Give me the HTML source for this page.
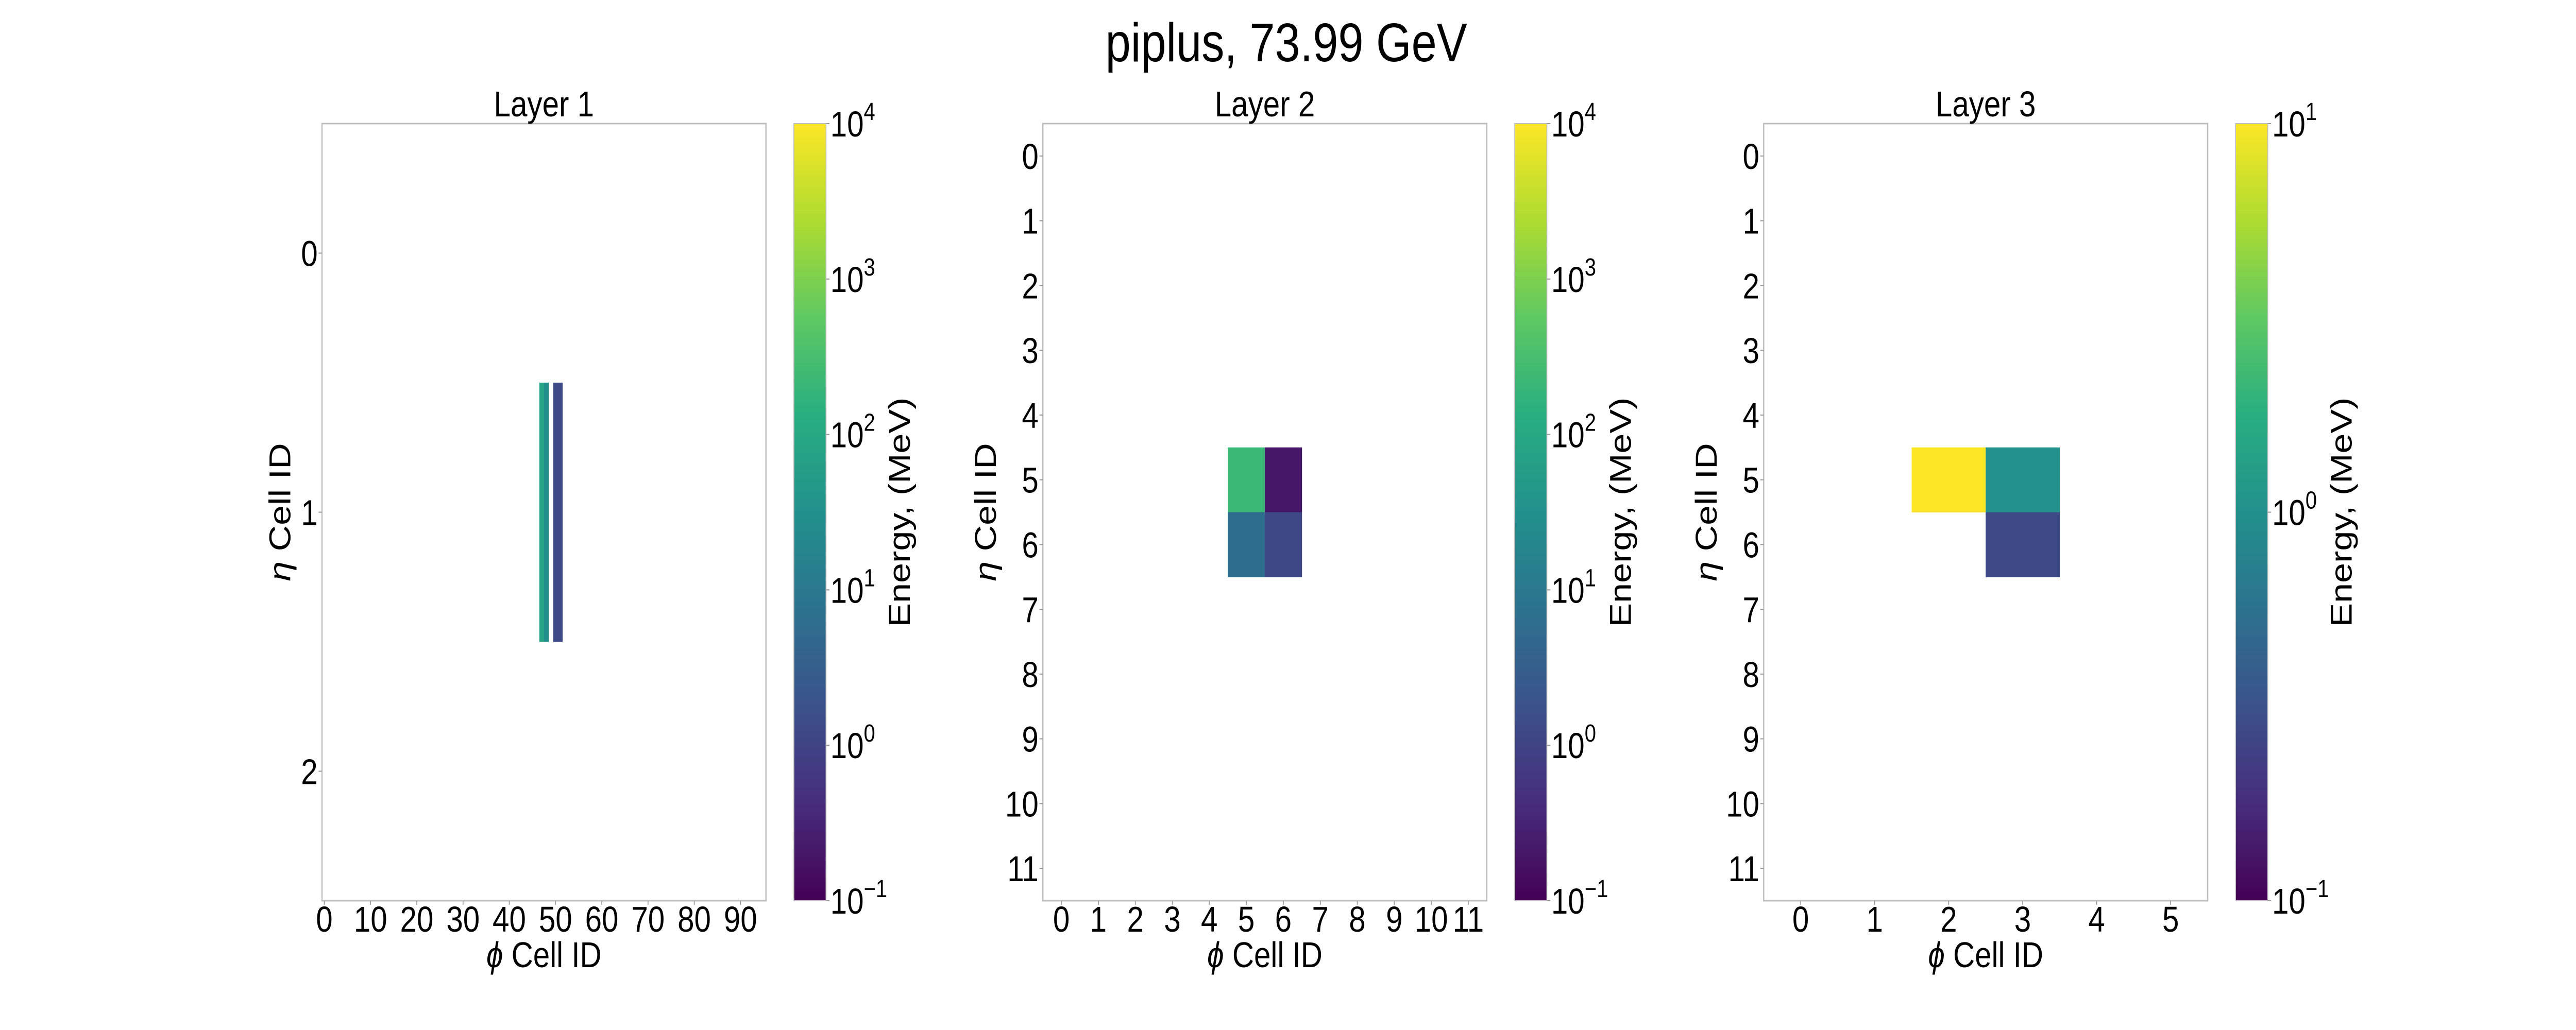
<!DOCTYPE html>
<html><head><meta charset="utf-8"><style>
html,body{margin:0;padding:0;background:#fff;width:100%;height:100%;overflow:hidden;}
svg{display:block;width:100vw;height:100vh;font-family:"Liberation Sans","DejaVu Sans",sans-serif;}
</style></head><body>
<svg id="fig" viewBox="0 0 6000 2000" preserveAspectRatio="none">
<defs>
<linearGradient id="viridis" x1="0" y1="1" x2="0" y2="0">
<stop offset="0" stop-color="#440154"/><stop offset="0.125" stop-color="#472d7b"/><stop offset="0.25" stop-color="#3b528b"/><stop offset="0.375" stop-color="#2c728e"/><stop offset="0.5" stop-color="#21918c"/><stop offset="0.625" stop-color="#28ae80"/><stop offset="0.75" stop-color="#5ec962"/><stop offset="0.875" stop-color="#addc30"/><stop offset="1" stop-color="#fde725"/>
</linearGradient>
</defs>
<text x="2996" y="119" font-size="106" text-anchor="middle">piplus, 73.99 GeV</text>
</svg>
<script>
// Layer 1 data
const l1Rows=[1,1,1,1];
const l1Cols=[47,48,50,51];
const l1Vals=[80,30,1.3,1.3];
const l1XTicks=[0,10,20,30,40,50,60,70,80,90];
const l1YTicks=[0,1,2];
// Layer 2 data
const l2Rows=[5,5,6,6];
const l2Cols=[5,6,5,6];
const l2Vals=[220,0.2,6,1.2];
const l2XTicks=[0,1,2,3,4,5,6,7,8,9,10,11];
const l2YTicks=[0,1,2,3,4,5,6,7,8,9,10,11];
// Layer 3 data
const l3Rows=[5,5,6];
const l3Cols=[2,3,3];
const l3Vals=[12,1.0,0.28];
const l3XTicks=[0,1,2,3,4,5];
const l3YTicks=[0,1,2,3,4,5,6,7,8,9,10,11];
const cb1Exps=[-1,0,1,2,3,4];
const cb2Exps=[-1,0,1,2,3,4];
const cb3Exps=[-1,0,1];

const NS="http://www.w3.org/2000/svg";
const svg=document.getElementById('fig');
const stops=[[0,[0x44,0x01,0x54]],[0.125,[0x47,0x2d,0x7b]],[0.25,[0x3b,0x52,0x8b]],[0.375,[0x2c,0x72,0x8e]],[0.5,[0x21,0x91,0x8c]],[0.625,[0x28,0xae,0x80]],[0.75,[0x5e,0xc9,0x62]],[0.875,[0xad,0xdc,0x30]],[1,[0xfd,0xe7,0x25]]];
function viridis(t){t=Math.max(0,Math.min(1,t));for(let i=1;i<stops.length;i++){if(t<=stops[i][0]){const a=stops[i-1],b=stops[i];const f=(t-a[0])/(b[0]-a[0]);const c=a[1].map((v,k)=>Math.round(v+(b[1][k]-v)*f));return `rgb(${c[0]},${c[1]},${c[2]})`;}}return 'rgb(253,231,37)';}
function mk(tag,attrs,parent){const e=document.createElementNS(NS,tag);for(const k in attrs)e.setAttribute(k,attrs[k]);(parent||svg).appendChild(e);return e;}

function panel(o){
  const g=mk('g',{});
  
  
  const top=240,bot=1749,w=1034;
  const xS=v=>o.left+(v-(-0.5))/o.nx*w;
  const yS=v=>top+(v-(-0.5))/o.ny*(bot-top);
  const cS=v=>(Math.log10(v)-o.lmin)/(o.lmax-o.lmin);
  for(let i=0;i<o.vals.length;i++){
    const r=mk('rect',{x:xS(o.cols[i]-0.5),y:yS(o.rows[i]-0.5),width:xS(o.cols[i]+0.5)-xS(o.cols[i]-0.5)+0.5,height:yS(o.rows[i]+0.5)-yS(o.rows[i]-0.5)+0.5,fill:viridis(cS(o.vals[i]))},g);
    
    
  }
  const fr=mk('rect',{x:o.left,y:top,width:w,height:bot-top,fill:'none',stroke:'#bfbfbf','stroke-width':3},g);
  
  
  const t=mk('text',{x:o.left+w/2,y:226,'font-size':70,'text-anchor':'middle'},g);t.textContent='Layer '+o.id;
  
  
  o.xt.forEach(v=>{const x=xS(v);
    mk('line',{x1:x,x2:x,y1:bot,y2:bot+8,stroke:'#999','stroke-width':2},g);
    const tx=mk('text',{x:x,y:1809,'font-size':70,'text-anchor':'middle'},g);tx.textContent=v;
    
    });
  o.yt.forEach(v=>{const y=yS(v);
    mk('line',{x1:o.left-8,x2:o.left,y1:y,y2:y,stroke:'#999','stroke-width':2},g);
    const ty=mk('text',{x:o.left-10,y:y+25,'font-size':70,'text-anchor':'end'},g);ty.textContent=v;
    
    });
  const xl=mk('text',{x:o.left+w/2,y:1878,'font-size':70,'text-anchor':'middle'},g);
  xl.innerHTML='<tspan font-style="italic">ϕ</tspan> Cell ID';
  
  
  const yx=o.left-o.ylOff, yy=(top+bot)/2;
  const yl=mk('text',{x:yx,y:yy,'font-size':70,'text-anchor':'middle',transform:`rotate(-90 ${yx} ${yy})`,'dominant-baseline':'middle'},g);
  yl.innerHTML='<tspan font-style="italic">η</tspan> Cell ID';
  
  
  const cx=o.left+w+65,cw=75;
  const cb=mk('rect',{x:cx,y:top,width:cw,height:bot-top,fill:'url(#viridis)',stroke:'#bfbfbf','stroke-width':2},g);
  
  
  const cyS=e=>bot-(e-o.lmin)/(o.lmax-o.lmin)*(bot-top);
  o.cb.forEach(e=>{const y=cyS(e);
    mk('line',{x1:cx+cw,x2:cx+cw+8,y1:y,y2:y,stroke:'#999','stroke-width':2},g);
    const ct=mk('text',{x:cx+cw+10,y:y+25,'font-size':70},g);
    ct.innerHTML='10<tspan dy="-32" font-size="48">'+(e<0?'\u2212'+(-e):e)+'</tspan>';
    
    });
  const lx=cx+cw+177;
  const cl=mk('text',{x:lx,y:yy,'font-size':70,'text-anchor':'middle','dominant-baseline':'middle',transform:`rotate(-90 ${lx} ${yy})`},g);
  cl.textContent='Energy, (MeV)';
  
  
}
panel({id:1,left:750,nx:96,ny:3,rows:l1Rows,cols:l1Cols,vals:l1Vals,xt:l1XTicks,yt:l1YTicks,lmin:-1,lmax:4,cb:cb1Exps,ylOff:92});
panel({id:2,left:2429,nx:12,ny:12,rows:l2Rows,cols:l2Cols,vals:l2Vals,xt:l2XTicks,yt:l2YTicks,lmin:-1,lmax:4,cb:cb2Exps,ylOff:128});
panel({id:3,left:4108,nx:6,ny:12,rows:l3Rows,cols:l3Cols,vals:l3Vals,xt:l3XTicks,yt:l3YTicks,lmin:-1,lmax:1,cb:cb3Exps,ylOff:128});
</script>
</body></html>
